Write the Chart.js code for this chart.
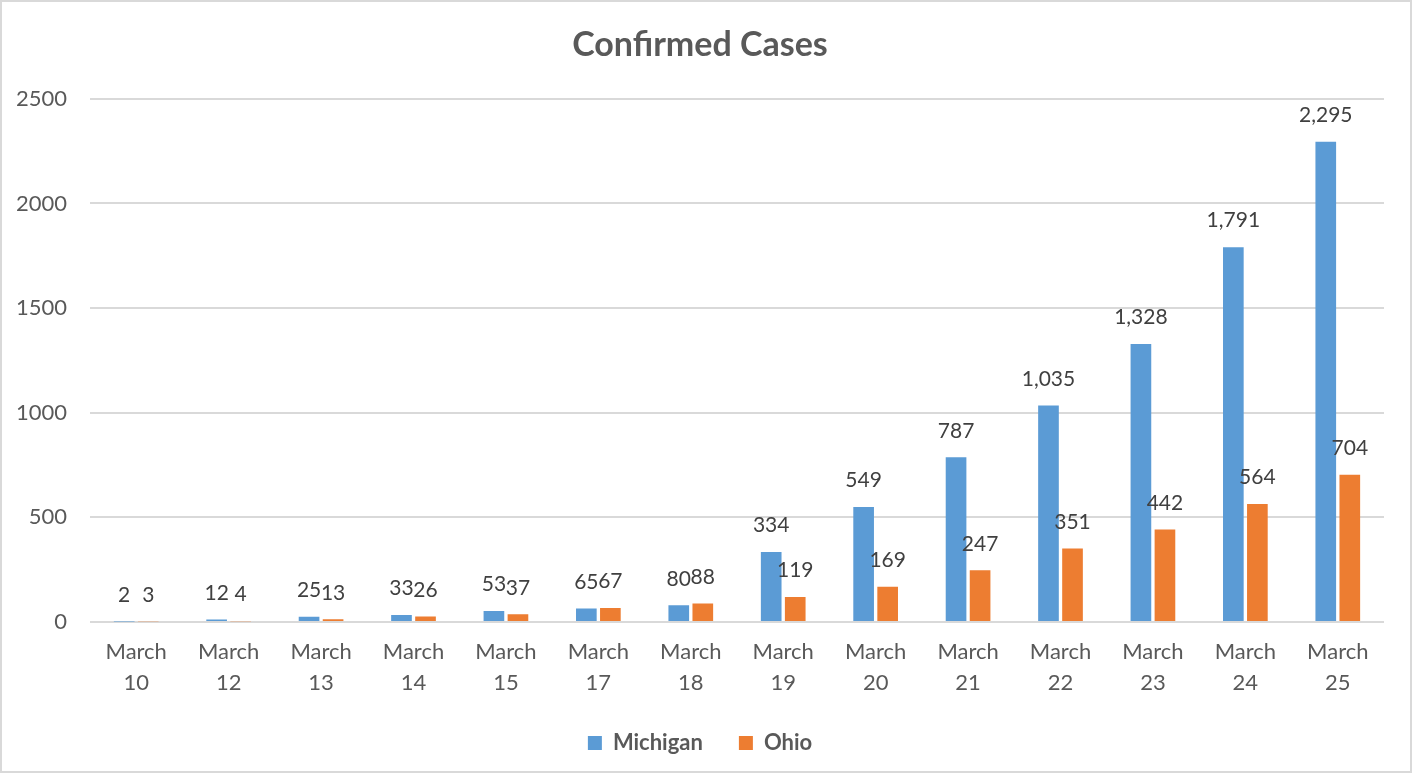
<!DOCTYPE html>
<html>
<head>
<meta charset="utf-8">
<script src="https://cdn.jsdelivr.net/npm/chart.js@4"></script>
<style>
  html, body { margin: 0; padding: 0; background: #fff; }
  #box { position: absolute; left: 0; top: 0; width: 1408px; height: 769px; border: 2px solid #d9d9d9; background: #fff; }
  #box canvas { display: block; }
</style>
</head>
<body>
<div id="box"><canvas id="myChart" width="1408" height="769"></canvas></div>
<script>
// データ
const days = ['10', '12', '13', '14', '15', '17', '18', '19', '20', '21', '22', '23', '24', '25'];
const michigan = [2, 12, 25, 33, 53, 65, 80, 334, 549, 787, 1035, 1328, 1791, 2295];
const ohio = [3, 4, 13, 26, 37, 67, 88, 119, 169, 247, 351, 442, 564, 704];
const yTicks = [0, 500, 1000, 1500, 2000, 2500];

const labels = days.map(d => ['March', d]);
const fontFamily = 'Lato, "Noto Sans", sans-serif';

// 棒の上に値を描くプラグイン
const barValues = {
    id: 'barValues',
    afterDatasetsDraw(chart) {
        const ctx = chart.ctx;
        ctx.save();
        ctx.font = '21px ' + fontFamily;
        ctx.fillStyle = '#404040';
        ctx.textAlign = 'center';
        ctx.textBaseline = 'bottom';
        chart.data.datasets.forEach((ds, i) => {
            chart.getDatasetMeta(i).data.forEach((bar, j) => {
                ctx.fillText(ds.data[j].toLocaleString('en-US'), bar.x, bar.y - 16);
            });
        });
        ctx.restore();
    }
};

const ctx = document.getElementById('myChart').getContext('2d');
new Chart(ctx, {
    type: 'bar',
    data: {
        labels: labels,
        datasets: [
            { label: 'Michigan', data: michigan, backgroundColor: '#5b9bd5' },
            { label: 'Ohio', data: ohio, backgroundColor: '#ed7d31' }
        ]
    },
    options: {
        responsive: false,
        animation: false,
        categoryPercentage: 0.52,
        barPercentage: 0.86,
        layout: { padding: { left: 14, right: 26, top: 10, bottom: 7 } },
        scales: {
            x: {
                afterFit: axis => { axis.height = 74; },
                grid: { display: false, drawTicks: false },
                border: { display: false },
                ticks: { color: '#595959', font: { family: fontFamily, size: 22, lineHeight: 1.4 }, maxRotation: 0, autoSkip: false, padding: 15 }
            },
            y: {
                min: 0,
                max: 2500,
                afterBuildTicks: axis => { axis.ticks = yTicks.map(v => ({ value: v })); },
                afterFit: axis => { axis.width = 74; },
                grid: { color: '#d9d9d9', lineWidth: 2, drawTicks: false },
                border: { display: false },
                ticks: { color: '#595959', font: { family: fontFamily, size: 22 }, padding: 23, callback: v => String(v) }
            }
        },
        plugins: {
            title: {
                display: true,
                text: 'Confirmed Cases',
                color: '#595959',
                font: { family: fontFamily, size: 34, weight: 'bold' },
                padding: { top: 13, bottom: 33 }
            },
            legend: {
                position: 'bottom',
                labels: {
                    color: '#595959',
                    font: { family: fontFamily, size: 22, weight: 'bold' },
                    boxWidth: 14,
                    boxHeight: 14,
                    padding: 36
                }
            },
            tooltip: { enabled: false }
        }
    },
    plugins: [barValues]
});
</script>
</body>
</html>
